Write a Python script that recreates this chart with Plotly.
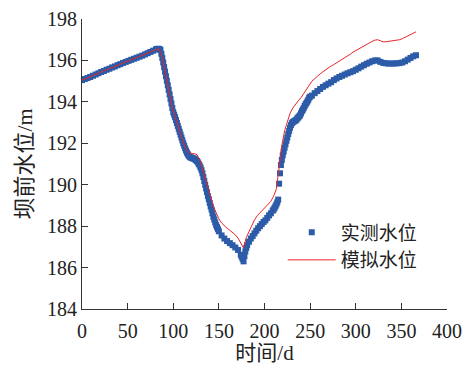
import plotly.graph_objects as go

# ---- measured water level (days, values) ----
measured_days = (
    list(range(0, 82, 3))          # 0..81
    + list(range(82, 151, 1))      # 82..150
    + list(range(153, 175, 3))     # 153..174
    + list(range(175, 182, 1))     # 175..181
    + list(range(183, 210, 2))     # 183..209
    + list(range(210, 251, 1))     # 210..250
    + list(range(252, 367, 3))     # 252..366
)

measured = [
    # 0..81 step 3
    195.05, 195.10, 195.15, 195.20, 195.26, 195.32, 195.38, 195.44, 195.49, 195.55,
    195.60, 195.66, 195.71, 195.77, 195.82, 195.88, 195.93, 195.98, 196.03, 196.08,
    196.13, 196.18, 196.23, 196.29, 196.35, 196.41, 196.47, 196.53,
    # 82..150 daily
    196.55, 196.56, 196.56, 196.55, 196.50, 196.32, 196.12, 195.90, 195.68, 195.46,
    195.24, 195.02, 194.80, 194.58, 194.36, 194.14, 193.92, 193.70, 193.50, 193.38,
    193.26, 193.12, 192.98, 192.84, 192.70, 192.56, 192.42, 192.28, 192.14, 192.00,
    191.88, 191.76, 191.65, 191.55, 191.47, 191.40, 191.35, 191.32, 191.30, 191.28,
    191.27, 191.25, 191.22, 191.18, 191.14, 191.08, 191.00, 190.92, 190.82, 190.70,
    190.55, 190.37, 190.18, 190.00, 189.82, 189.64, 189.45, 189.30, 189.12, 188.95,
    188.80, 188.62, 188.45, 188.32, 188.18, 188.05, 187.95, 187.85, 187.75,
    # 153..174 step 3
    187.55, 187.40, 187.28, 187.18, 187.08, 186.97, 186.85, 186.62,
    # 175..181 daily
    186.52, 186.42, 186.30, 186.55, 186.78, 186.95, 187.08,
    # 183..209 step 2
    187.25, 187.40, 187.52, 187.65, 187.78, 187.90, 188.00, 188.10, 188.20, 188.28,
    188.40, 188.52, 188.62, 188.75,
    # 210..250 daily
    188.80, 188.88, 188.96, 189.05, 189.15, 189.28, 190.05, 190.55, 190.95, 191.20,
    191.42, 191.60, 191.78, 191.95, 192.12, 192.28, 192.45, 192.60, 192.75, 192.88,
    192.97, 193.02, 193.05, 193.08, 193.10, 193.14, 193.20, 193.25, 193.30, 193.35,
    193.45, 193.55, 193.62, 193.70, 193.80, 193.88, 193.95, 194.02, 194.10, 194.20,
    194.25,
    # 252..366 step 3
    194.30, 194.42, 194.52, 194.62, 194.72, 194.80, 194.88, 194.95, 195.05, 195.13,
    195.20, 195.26, 195.32, 195.38, 195.43, 195.48, 195.55, 195.62, 195.70, 195.77,
    195.84, 195.90, 195.96, 196.00, 196.00, 195.93, 195.88, 195.86, 195.85, 195.85,
    195.85, 195.86, 195.87, 195.90, 195.96, 196.04, 196.12, 196.20, 196.25,
]

# ---- simulated water level ----
sim_days = list(range(0, 367, 3))
simulated = [
    195.05, 195.10, 195.15, 195.20, 195.26, 195.32, 195.38, 195.44, 195.49, 195.55,
    195.60, 195.66, 195.71, 195.77, 195.82, 195.88, 195.93, 195.98, 196.03, 196.08,
    196.13, 196.18, 196.23, 196.29, 196.35, 196.41, 196.47, 196.53, 196.56, 196.32,
    195.68, 195.02, 194.36, 193.70, 193.28, 192.86, 192.45, 192.05, 191.72, 191.55,
    191.50, 191.50, 191.45, 191.20, 190.80, 190.30, 189.85, 189.40, 188.95, 188.60,
    188.35, 188.15, 188.00, 187.90, 187.80, 187.70, 187.58, 187.42, 187.20, 186.95,
    187.45, 187.75, 188.00, 188.30, 188.50, 188.65, 188.80, 188.92, 189.05, 189.20,
    189.45, 189.80, 190.80, 191.90, 192.60, 193.05, 193.45, 193.70, 193.90, 194.05,
    194.20, 194.40, 194.65, 194.85, 195.00, 195.12, 195.25, 195.35, 195.45, 195.55,
    195.65, 195.73, 195.80, 195.88, 195.95, 196.05, 196.13, 196.22, 196.30, 196.40,
    196.48, 196.55, 196.62, 196.70, 196.78, 196.85, 196.92, 196.98, 197.00, 196.95,
    196.90, 196.90, 196.92, 196.93, 196.95, 196.97, 197.00, 197.05, 197.12, 197.20,
    197.27, 197.33, 197.38,
]

x_ticks = [0, 50, 100, 150, 200, 250, 300, 350, 400]
y_ticks = [184, 186, 188, 190, 192, 194, 196, 198]

FONT = "Liberation Serif, Times New Roman, Noto Sans CJK SC, serif"

fig = go.Figure()
fig.add_trace(go.Scatter(
    x=measured_days, y=measured, mode="markers", name="实测水位",
    marker=dict(symbol="square", size=6, color="#2c5ba8", line=dict(width=0)),
))
fig.add_trace(go.Scatter(
    x=sim_days, y=simulated, mode="lines", name="模拟水位",
    line=dict(color="#e8262a", width=1),
))

axis_common = dict(
    showline=True, linecolor="#333", linewidth=1, mirror=False,
    ticks="inside", ticklen=6, tickcolor="#333", tickwidth=1,
    showgrid=False, zeroline=False, automargin=False,
    tickfont=dict(family=FONT, size=20, color="#222"),
)

fig.update_layout(
    width=465, height=365,
    margin=dict(l=82, r=18, t=19, b=56),
    paper_bgcolor="white", plot_bgcolor="white",
    font=dict(family=FONT, size=19, color="#222"),
    xaxis=dict(range=[0, 400], tickvals=x_ticks, ticklabelstandoff=4, **axis_common,
               title=dict(text="时间/d", font=dict(family=FONT, size=21), standoff=8)),
    yaxis=dict(range=[184, 198], tickvals=y_ticks, **axis_common,
               title=dict(text="坝前水位/m", font=dict(family=FONT, size=22), standoff=8)),
    legend=dict(x=0.55, y=0.33, xanchor="left", yanchor="top",
                bgcolor="rgba(0,0,0,0)", font=dict(family=FONT, size=19),
                itemwidth=48, tracegroupgap=0),
    showlegend=True,
)

fig.write_html("out.html")
